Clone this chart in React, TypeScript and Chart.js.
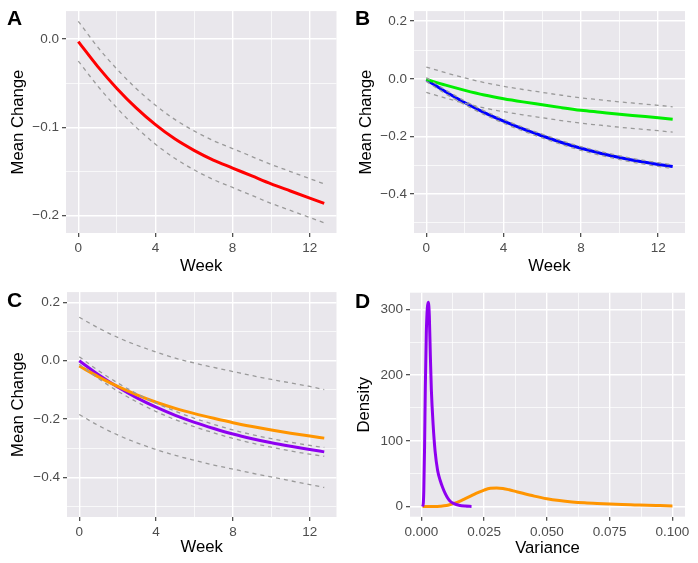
import React, { useEffect, useRef } from "react";
import { Chart, registerables } from "chart.js";
Chart.register(...registerables);

// ---------- data ----------
const weeks = [0, 1, 2, 3, 4, 5, 6, 7, 8, 9, 10, 11, 12, 12.75];
const weekMajor = [0, 4, 8, 12];
const weekMinor = [2, 6, 10];

// Panel A
const aMean = [-0.003, -0.031, -0.056, -0.078, -0.097, -0.113, -0.126, -0.137, -0.146, -0.155, -0.164, -0.172, -0.18, -0.186];
const aUpper = [0.02, -0.009, -0.034, -0.056, -0.075, -0.091, -0.104, -0.115, -0.124, -0.133, -0.142, -0.15, -0.158, -0.164];
const aLower = [-0.025, -0.053, -0.078, -0.1, -0.119, -0.135, -0.148, -0.159, -0.168, -0.177, -0.186, -0.194, -0.202, -0.208];
const aYMajor = [-0.2, -0.1, 0];
const aYMinor = [-0.15, -0.05];

// Panel B
const bGreen = [-0.002, -0.022, -0.04, -0.056, -0.069, -0.08, -0.09, -0.1, -0.109, -0.116, -0.123, -0.129, -0.135, -0.14];
const bGreenUp = [0.041, 0.021, 0.003, -0.013, -0.026, -0.037, -0.047, -0.057, -0.066, -0.073, -0.08, -0.086, -0.092, -0.097];
const bGreenLo = [-0.047, -0.067, -0.085, -0.101, -0.114, -0.125, -0.135, -0.145, -0.154, -0.161, -0.168, -0.174, -0.18, -0.185];
const bBlue = [-0.003, -0.045, -0.083, -0.117, -0.147, -0.174, -0.198, -0.221, -0.241, -0.258, -0.273, -0.286, -0.297, -0.304];
const bBlueUp = [0.004, -0.039, -0.077, -0.111, -0.141, -0.168, -0.192, -0.215, -0.235, -0.252, -0.267, -0.28, -0.291, -0.298];
const bBlueLo = [-0.009, -0.052, -0.09, -0.124, -0.154, -0.181, -0.205, -0.228, -0.248, -0.265, -0.28, -0.293, -0.304, -0.311];
const bcYMajor = [-0.4, -0.2, 0, 0.2];
const bcYMinor = [-0.5, -0.3, -0.1, 0.1];

// Panel C
const cPurple = [0.0, -0.048, -0.09, -0.127, -0.159, -0.187, -0.211, -0.232, -0.251, -0.267, -0.281, -0.293, -0.304, -0.312];
const cPurpleUp = [0.014, -0.034, -0.076, -0.113, -0.145, -0.173, -0.197, -0.218, -0.237, -0.253, -0.267, -0.279, -0.29, -0.297];
const cPurpleLo = [-0.012, -0.061, -0.104, -0.141, -0.174, -0.202, -0.226, -0.247, -0.266, -0.282, -0.296, -0.309, -0.32, -0.327];
const cOrange = [-0.018, -0.055, -0.088, -0.117, -0.142, -0.163, -0.181, -0.197, -0.212, -0.225, -0.237, -0.248, -0.258, -0.265];
const cOrangeUp = [0.149, 0.112, 0.08, 0.053, 0.03, 0.009, -0.008, -0.023, -0.037, -0.051, -0.064, -0.076, -0.088, -0.099];
const cOrangeLo = [-0.184, -0.222, -0.254, -0.281, -0.304, -0.324, -0.341, -0.357, -0.371, -0.385, -0.398, -0.411, -0.424, -0.434];

// Panel D
const dPurpleVar = [0.0005, 0.0008, 0.001, 0.0013, 0.0016, 0.002, 0.0024, 0.0028, 0.0032, 0.0036, 0.004, 0.0047, 0.0055, 0.0065, 0.0075, 0.0085, 0.0095, 0.0105, 0.0115, 0.013, 0.015, 0.0175, 0.02];
const dPurpleDens = [0, 5, 25, 90, 180, 265, 302, 311, 290, 230, 178, 125, 84, 55, 40, 29, 20, 13, 8, 4.5, 2, 0.7, 0.2];
const dOrangeVar = [0.0005, 0.005, 0.0075, 0.01, 0.0115, 0.013, 0.015, 0.0175, 0.02, 0.0225, 0.025, 0.0275, 0.03, 0.0325, 0.035, 0.0375, 0.04, 0.045, 0.05, 0.055, 0.06, 0.065, 0.07, 0.075, 0.08, 0.085, 0.09, 0.095, 0.1];
const dOrangeDens = [0, 0.1, 0.5, 1.5, 3, 4.8, 7.5, 12, 16.5, 21, 25, 27.8, 28.3, 27.5, 25.5, 23, 20.5, 15.8, 11.8, 9, 7, 5.6, 4.6, 3.8, 3.1, 2.5, 1.9, 1.4, 0.9];
const dXMajor = [0, 0.025, 0.05, 0.075, 0.1];
const dXMinor = [0.0125, 0.0375, 0.0625, 0.0875];
const dYMajor = [0, 100, 200, 300];
const dYMinor = [50, 150, 250];

// ---------- styling ----------
const FONT = "'Liberation Sans', Arial, Helvetica, sans-serif";
const BG = "#E9E7EC";
const DASH = "#9A9A9A";

const pts = (xs: number[], ys: number[]) => xs.map((x, i) => ({ x, y: ys[i] }));
const solid = (xs: number[], ys: number[], color: string) => ({
  data: pts(xs, ys),
  borderColor: color,
  borderWidth: 3,
  pointRadius: 0,
  cubicInterpolationMode: "monotone",
  fill: false,
});
const dashed = (xs: number[], ys: number[]) => ({
  data: pts(xs, ys),
  borderColor: DASH,
  borderWidth: 1.3,
  borderDash: [4, 4],
  pointRadius: 0,
  cubicInterpolationMode: "monotone",
  fill: false,
});

const isIn = (v: number, arr: number[]) => arr.some((m) => Math.abs(m - v) < 1e-9);
const minus = (s: string) => s.replace("-", "\u2212");

type Spec = {
  letter: string;
  left: number; top: number; width: number; height: number;
  area: { l: number; t: number; r: number; b: number };
  xMin: number; xMax: number; yMin: number; yMax: number;
  xMajor: number[]; xMinor: number[]; yMajor: number[]; yMinor: number[];
  xFmt: (v: number) => string; yFmt: (v: number) => string;
  xTitle: string; yTitle: string; xTitlePad: number; yTitlePad: number;
  letterTop: number; letterLeft: number;
  datasets: any[];
};

const bgPlugin = {
  id: "panelBg",
  beforeDraw(chart: any) {
    const { ctx, chartArea } = chart;
    if (!chartArea) return;
    ctx.save();
    ctx.fillStyle = BG;
    ctx.fillRect(chartArea.left, chartArea.top, chartArea.right - chartArea.left, chartArea.bottom - chartArea.top);
    ctx.restore();
  },
};

function axis(min: number, max: number, major: number[], minor: number[], fmt: (v: number) => string, title: string, titlePad: any, fit: (s: any) => void) {
  const all = [...major, ...minor].sort((a, b) => a - b);
  return {
    type: "linear",
    min,
    max,
    afterBuildTicks: (s: any) => {
      s.ticks = all.map((v) => ({ value: v }));
    },
    afterFit: fit,
    ticks: {
      autoSkip: false,
      maxRotation: 0,
      minRotation: 0,
      padding: 3,
      color: "#4D4D4D",
      font: { family: FONT, size: 13.5 },
      callback: (v: number) => (isIn(v, major) ? fmt(v) : ""),
    },
    grid: {
      color: "#FFFFFF",
      lineWidth: (ctx: any) => (ctx.tick && isIn(ctx.tick.value, major) ? 1.4 : 0.7),
      tickLength: 4,
      tickWidth: 1.1,
      tickColor: (ctx: any) => (ctx.tick && isIn(ctx.tick.value, major) ? "#333333" : "rgba(0,0,0,0)"),
    },
    border: { display: false },
    title: {
      display: true,
      text: title,
      color: "#000000",
      font: { family: FONT, size: 16.7 },
      padding: titlePad,
    },
  };
}

function Panel({ spec }: { spec: Spec }) {
  const ref = useRef<HTMLCanvasElement | null>(null);
  useEffect(() => {
    if (!ref.current) return;
    const s = spec;
    const chart = new Chart(ref.current, {
      type: "line",
      data: { datasets: s.datasets },
      options: {
        animation: false,
        responsive: false,
        maintainAspectRatio: false,
        devicePixelRatio: 1,
        layout: { padding: { left: 0, top: s.area.t, right: s.width - s.area.r, bottom: 0 } },
        plugins: { legend: { display: false }, tooltip: { enabled: false }, title: { display: false } },
        elements: { point: { radius: 0 } },
        scales: {
          x: axis(s.xMin, s.xMax, s.xMajor, s.xMinor, s.xFmt, s.xTitle, { top: 0, bottom: s.xTitlePad }, (sc: any) => {
            sc.height = s.height - s.area.b;
          }),
          y: axis(s.yMin, s.yMax, s.yMajor, s.yMinor, s.yFmt, s.yTitle, { top: s.yTitlePad, bottom: 0 }, (sc: any) => {
            sc.width = s.area.l;
          }),
        },
      } as any,
      plugins: [bgPlugin],
    } as any);
    return () => chart.destroy();
  }, [spec]);
  return (
    <>
      <canvas
        ref={ref}
        width={spec.width}
        height={spec.height}
        style={{ position: "absolute", left: spec.left, top: spec.top, width: spec.width, height: spec.height }}
      />
      <div
        style={{
          position: "absolute",
          left: spec.left + spec.letterLeft,
          top: spec.top + spec.letterTop,
          fontFamily: FONT,
          fontWeight: "bold",
          fontSize: 21,
          lineHeight: "21px",
          color: "#000",
        }}
      >
        {spec.letter}
      </div>
    </>
  );
}

const weekFmt = (v: number) => String(v);
const y1 = (v: number) => minus(v.toFixed(1));
const dxFmt = (v: number) => v.toFixed(3);
const dyFmt = (v: number) => String(v);

const specs: Spec[] = [
  {
    letter: "A", left: 0, top: 0, width: 349, height: 281,
    area: { l: 66, t: 8, r: 336.5, b: 233 },
    xMin: -0.6375, xMax: 13.3875, yMin: -0.2195, yMax: 0.0315,
    xMajor: weekMajor, xMinor: weekMinor, yMajor: aYMajor, yMinor: aYMinor,
    xFmt: weekFmt, yFmt: y1, xTitle: "Week", yTitle: "Mean Change", xTitlePad: 4.3, yTitlePad: 8.3,
    letterTop: 7.2, letterLeft: 7,
    datasets: [
      dashed(weeks, aUpper), dashed(weeks, aLower),
      solid(weeks, aMean, "#FF0000"),
    ],
  },
  {
    letter: "B", left: 349, top: 0, width: 349, height: 281,
    area: { l: 65, t: 8, r: 336, b: 233 },
    xMin: -0.6375, xMax: 13.3875, yMin: -0.535, yMax: 0.235,
    xMajor: weekMajor, xMinor: weekMinor, yMajor: bcYMajor, yMinor: bcYMinor,
    xFmt: weekFmt, yFmt: y1, xTitle: "Week", yTitle: "Mean Change", xTitlePad: 4.3, yTitlePad: 7.5,
    letterTop: 7.2, letterLeft: 6,
    datasets: [
      dashed(weeks, bGreenUp), dashed(weeks, bGreenLo),
      dashed(weeks, bBlueUp), dashed(weeks, bBlueLo),
      solid(weeks, bGreen, "#00EE00"),
      solid(weeks, bBlue, "#0000FF"),
    ],
  },
  {
    letter: "C", left: 0, top: 281, width: 349, height: 282,
    area: { l: 67, t: 11, r: 336.5, b: 236 },
    xMin: -0.6375, xMax: 13.3875, yMin: -0.535, yMax: 0.235,
    xMajor: weekMajor, xMinor: weekMinor, yMajor: bcYMajor, yMinor: bcYMinor,
    xFmt: weekFmt, yFmt: y1, xTitle: "Week", yTitle: "Mean Change", xTitlePad: 5.3, yTitlePad: 8.3,
    letterTop: 8.2, letterLeft: 7,
    datasets: [
      dashed(weeks, cOrangeUp), dashed(weeks, cOrangeLo),
      dashed(weeks, cPurpleUp), dashed(weeks, cPurpleLo),
      solid(weeks, cOrange, "#FF9500"),
      solid(weeks, cPurple, "#8E00F0"),
    ],
  },
  {
    letter: "D", left: 349, top: 281, width: 349, height: 282,
    area: { l: 61, t: 11.7, r: 336, b: 235.7 },
    xMin: -0.0045, xMax: 0.105, yMin: -15.5, yMax: 325.5,
    xMajor: dXMajor, xMinor: dXMinor, yMajor: dYMajor, yMinor: dYMinor,
    xFmt: dxFmt, yFmt: dyFmt, xTitle: "Variance", yTitle: "Density", xTitlePad: 4.5, yTitlePad: 5.7,
    letterTop: 8.9, letterLeft: 6,
    datasets: [
      solid(dPurpleVar, dPurpleDens, "#8E00F0"),
      solid(dOrangeVar, dOrangeDens, "#FF9500"),
    ],
  },
];

export default function App() {
  return (
    <div style={{ position: "absolute", left: 0, top: 0, width: 698, height: 563, background: "#FFFFFF", overflow: "hidden" }}>
      {specs.map((s) => (
        <Panel key={s.letter} spec={s} />
      ))}
    </div>
  );
}
